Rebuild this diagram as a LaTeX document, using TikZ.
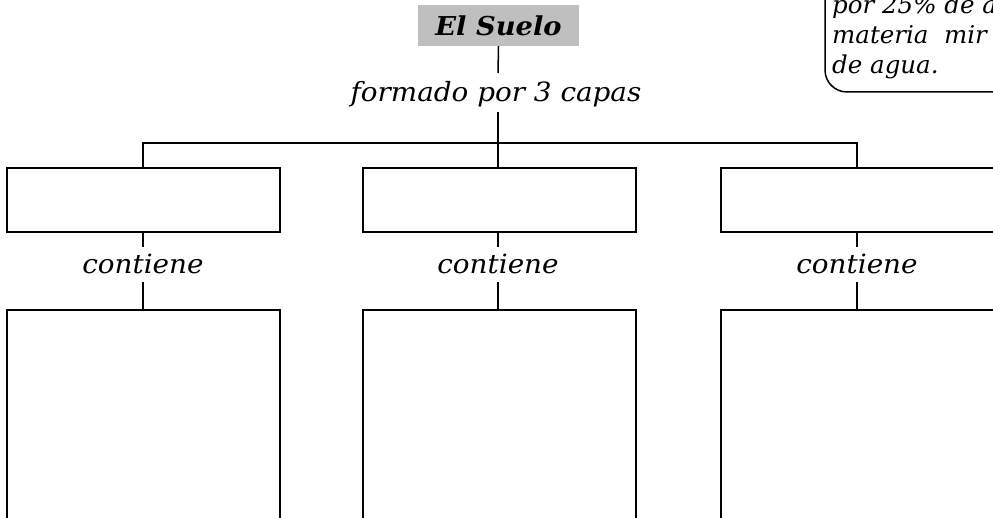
\documentclass[tikz,border=0pt]{standalone}
\usepackage{fontspec}
\setmainfont{DejaVu Serif}
\newfontfamily\widefont[FakeStretch=1.05]{DejaVu Serif}
\begin{document}
\begin{tikzpicture}[x=1pt,y=-1pt,
  box/.style={draw=black,line width=2pt,fill=white},
  conn/.style={draw=black,line width=1.5pt},
  lbl/.style={font=\widefont\fontsize{26.5}{30}\selectfont\itshape,inner sep=0pt,anchor=base},
  notetext/.style={font=\fontsize{24.5}{30}\selectfont\itshape,inner sep=0pt,anchor=base west}]
\useasboundingbox (0,0) rectangle (993,518);
% title
\node[fill=black!25,minimum width=161pt,minimum height=41pt,inner sep=0pt,
  font=\widefont\fontsize{26}{28}\selectfont\bfseries\itshape] (title) at (498.5,25.5) {El Suelo};
\node[lbl] (formado) at (496,102) {formado por 3 capas};
\coordinate (fa) at (498,73);
\coordinate (fb) at (498,112);
\draw[conn] (title.south) -- (fa);
\draw[conn] (fb) -- (498,143);
\coordinate (hl) at (143,143);
\coordinate (hr) at (857,143);
% top boxes
\path[box] (7,168) rectangle (280,232);
\path[box] (363,168) rectangle (636,232);
\path[box] (721,168) rectangle (1010,232);
\coordinate (t1) at (143,168);
\coordinate (t2) at (498,168);
\coordinate (t3) at (857,168);
\draw[conn] (t1) -- (hl) -- (hr) -- (t3);
\draw[conn] (498,143) -- (t2);
% contiene
\foreach \x/\n in {143/c1,498/c2,857/c3}{
  \node[lbl] (\n) at (\x,274) {contiene};
  \draw[conn] (\x,232) -- (\x,247);
  \draw[conn] (\x,282) -- (\x,310);
}
% bottom boxes
\path[box] (7,310) rectangle (280,540);
\path[box] (363,310) rectangle (636,540);
\path[box] (721,310) rectangle (1010,540);
% callout
\begin{scope}
\clip (0,0) rectangle (993,518);
\draw[line width=1.5pt,rounded corners=22pt] (825,-40) -- (825,92) -- (1020,92);
\node[notetext] (cl1) at (832,14) {por 25\% de a};
\node[notetext] (cl2) at (832,44) {materia\ \ mir};
\node[notetext] (cl3) at (832,74) {de agua.};
\end{scope}
\end{tikzpicture}
\end{document}
